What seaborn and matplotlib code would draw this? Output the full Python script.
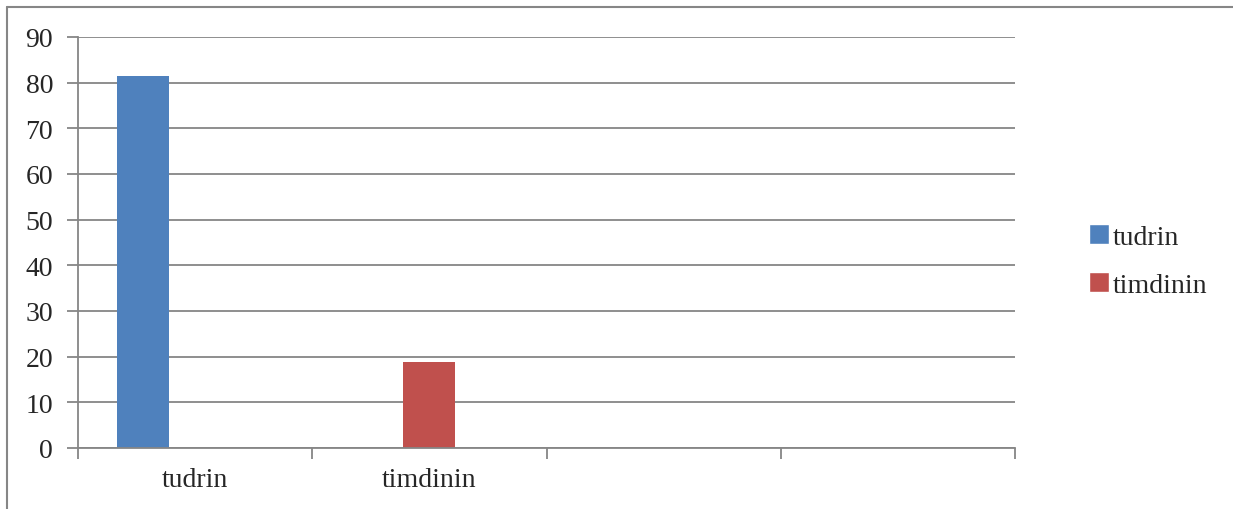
import numpy as np
import pandas as pd
import matplotlib
matplotlib.use("Agg")
import matplotlib.pyplot as plt
from matplotlib.lines import Line2D
from matplotlib.patches import Patch
import seaborn as sns

# ── Data ──────────────────────────────────────────────────────
categories = ["tudrin", "timdinin", "", " "]
series_names = ["tudrin", "timdinin", "Series3"]
tudrin_vals = [81.5, 0, 0, 0]
timdinin_vals = [0, 18.8, 0, 0]
series3_vals = [0, 0, 0, 0]
y_ticks = [0, 10, 20, 30, 40, 50, 60, 70, 80, 90]

BLUE, RED, GREY = "#4F81BD", "#C0504D", "#868686"

df = pd.DataFrame({
    "cat": categories * 3,
    "series": sum([[s] * len(categories) for s in series_names], []),
    "value": tudrin_vals + timdinin_vals + series3_vals,
})

sns.set_theme(style="white")
plt.rcParams["font.family"] = ["Liberation Serif", "DejaVu Serif"]

fig = plt.figure(figsize=(12.33, 5.10), dpi=100)
ax = fig.add_axes([78 / 1233, 1 - 449 / 510, (1015 - 78) / 1233, (449 - 38) / 510])

sns.barplot(data=df, x="cat", y="value", hue="series", order=categories,
            hue_order=series_names, palette=[BLUE, RED, "#9BBB59"],
            saturation=1, width=2 / 3, linewidth=0, ax=ax, legend=False)

ax.set_xlim(-0.5, len(categories) - 0.5)
ax.set_ylim(0, 90)
ax.set_yticks(y_ticks)
ax.set_yticklabels([str(v) for v in y_ticks], fontsize=20)
ax.yaxis.grid(True, color=GREY, linewidth=1.3)
ax.set_axisbelow(True)

# category boundaries carry tick marks, labels sit at centres
ax.set_xticks(np.arange(-0.5, len(categories)))
ax.set_xticklabels([])
ax.set_xticks(np.arange(len(categories)), minor=True)
ax.set_xticklabels(categories, minor=True, fontsize=20)
ax.tick_params(axis="x", which="major", length=8, width=1.3, color=GREY,
               direction="out", bottom=True)
ax.tick_params(axis="x", which="minor", length=0, pad=14)
ax.tick_params(axis="y", length=8, width=1.3, color=GREY, direction="out",
               left=True, pad=10)
ax.set_xlabel("")
ax.set_ylabel("")

for side in ["top", "right"]:
    ax.spines[side].set_visible(False)
for side in ["left", "bottom"]:
    ax.spines[side].set_color(GREY)
    ax.spines[side].set_linewidth(1.3)

handles = [Patch(facecolor=BLUE, label="tudrin"),
           Patch(facecolor=RED, label="timdinin")]
fig.legend(handles=handles, loc="center left", bbox_to_anchor=(1078 / 1233, 1 - 262 / 510),
           frameon=False, fontsize=20, handlelength=0.7, handleheight=0.7,
           handletextpad=0.15, labelspacing=0.8, borderaxespad=0)

# outer chart border (top and left visible)
fig.add_artist(Line2D([7 / 1233, 7 / 1233], [0, 1 - 8 / 510], color=GREY,
                      linewidth=1.5, transform=fig.transFigure))
fig.add_artist(Line2D([7 / 1233, 1], [1 - 8 / 510, 1 - 8 / 510], color=GREY,
                      linewidth=1.5, transform=fig.transFigure))

fig.savefig("out.png", dpi=100, facecolor="white")
